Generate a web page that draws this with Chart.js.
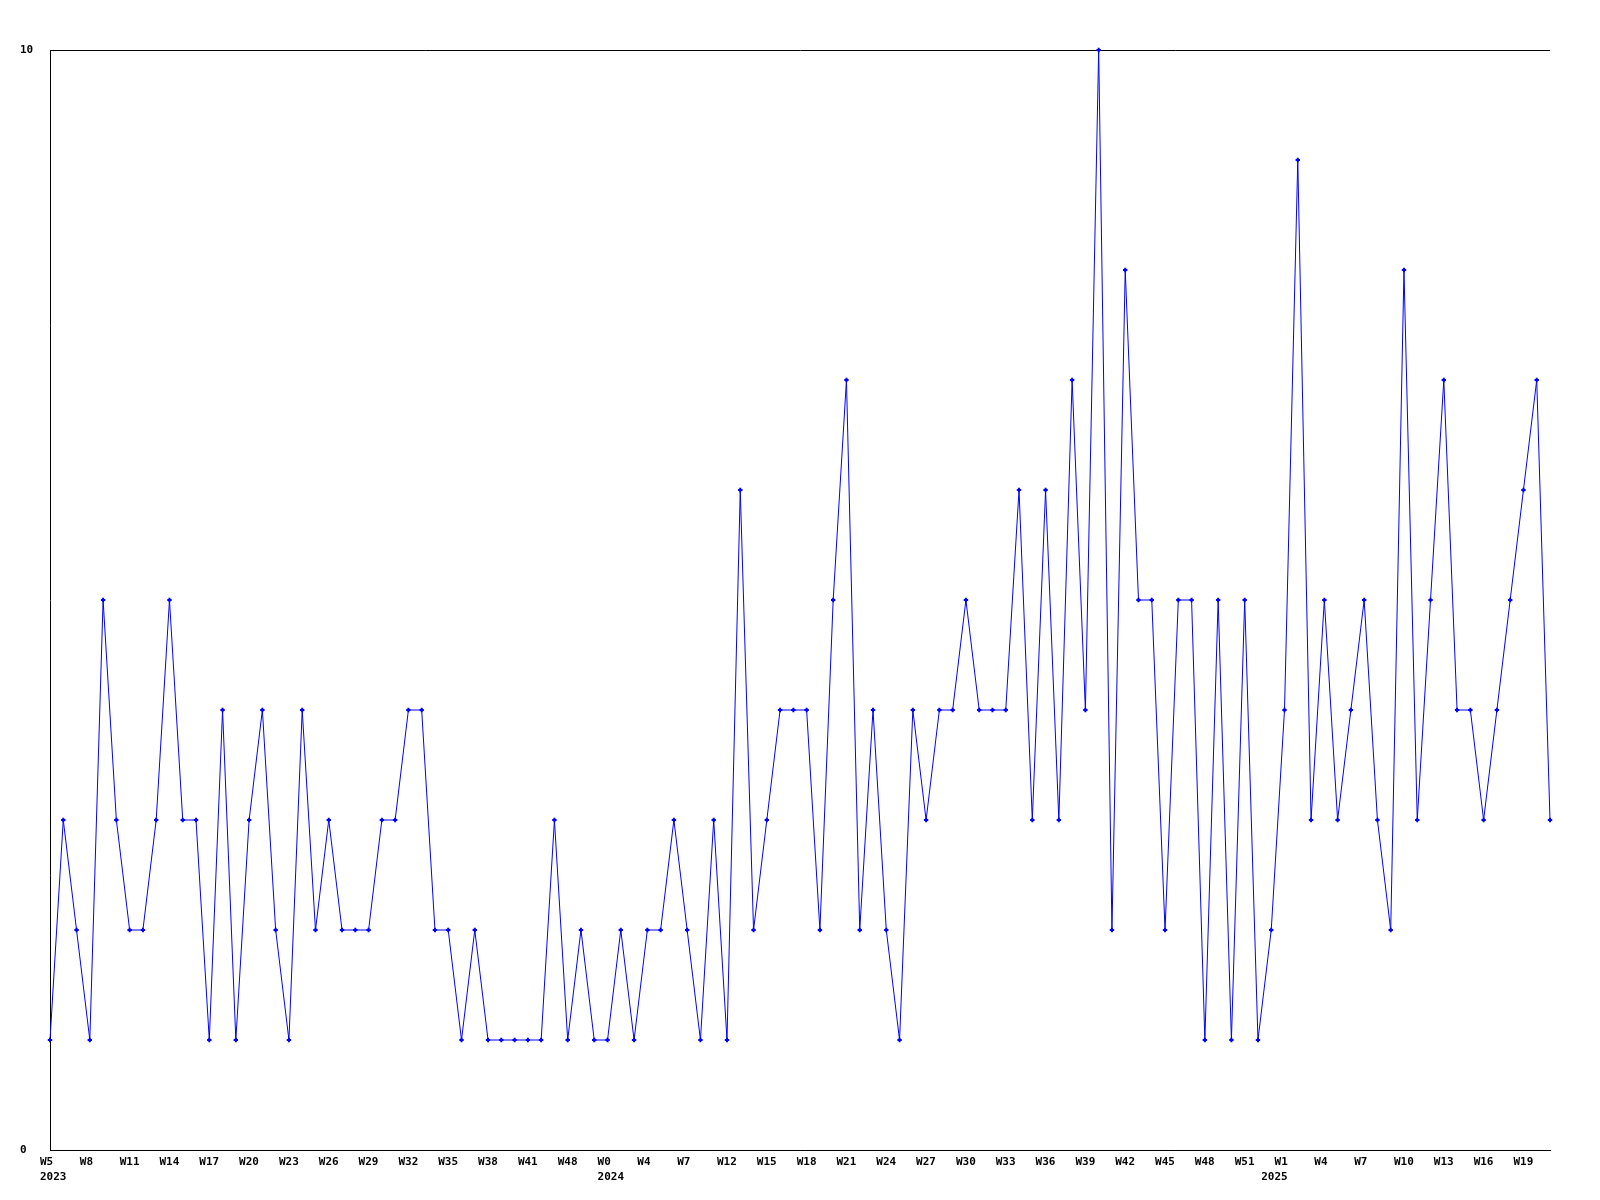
<!DOCTYPE html>
<html>
<head>
<meta charset="utf-8">
<script src="https://cdn.jsdelivr.net/npm/chart.js@4/dist/chart.umd.min.js"></script>
<style>
  html, body { margin: 0; padding: 0; background: #ffffff; }
  #wrap { width: 1600px; height: 1200px; }
</style>
</head>
<body>
<div id="wrap"><canvas id="c" width="1600" height="1200"></canvas></div>
<script>
// ---- data ----
const values = [
  1,3,2,1,5,3,2,2,3,5,3,3,1,4,1,3,4,2,1,4,
  2,3,2,2,2,3,3,4,4,2,2,1,2,1,1,1,1,1,3,1,
  2,1,1,2,1,2,2,3,2,1,3,1,6,2,3,4,4,4,2,5,
  7,2,4,2,1,4,3,4,4,5,4,4,4,6,3,6,3,7,4,10,
  2,8,5,5,2,5,5,1,5,1,5,1,2,4,9,3,5,3,4,5,
  3,2,8,3,5,7,4,4,3,4,5,6,7,3
];
// week tick labels, one every third point
const weekLabels = [
  'W5','W8','W11','W14','W17','W20','W23','W26','W29','W32',
  'W35','W38','W41','W48','W0','W4','W7','W12','W15','W18',
  'W21','W24','W27','W30','W33','W36','W39','W42','W45','W48',
  'W51','W1','W4','W7','W10','W13','W16','W19'
];
const weekEvery = 3;
// year labels and the point index they sit under
const yearLabels = ['2023', '2024', '2025'];
const yearAt = [0, 42, 92];
const yTicks = [0, 10];

// ---- build ----
const points = values.map((v, i) => ({ x: i, y: v }));
const tickMap = new Map();
weekLabels.forEach((w, k) => tickMap.set(k * weekEvery, [w]));
yearLabels.forEach((yr, j) => {
  const at = yearAt[j];
  const cur = tickMap.get(at);
  if (cur) cur.push(yr); else tickMap.set(at, ['', yr]);
});
const tickValues = Array.from(tickMap.keys()).sort((a, b) => a - b);

const font = { family: 'DejaVu Sans Mono', size: 11, weight: 'bold', lineHeight: 1.35 };

new Chart(document.getElementById('c'), {
  type: 'line',
  data: {
    datasets: [{
      data: points,
      borderColor: '#0000ff',
      backgroundColor: '#0000ff',
      borderWidth: 1,
      tension: 0,
      fill: false,
      pointStyle: 'cross',
      pointRadius: 2.2,
      pointBorderWidth: 2,
      pointBorderColor: '#0000ff',
      clip: false
    }]
  },
  options: {
    responsive: false,
    animation: false,
    devicePixelRatio: 1,
    layout: { padding: { left: 20, top: 50, right: 50, bottom: 0 } },
    plugins: { legend: { display: false }, tooltip: { enabled: false } },
    scales: {
      x: {
        type: 'linear',
        min: 0,
        max: values.length - 1,
        afterBuildTicks: (s) => { s.ticks = tickValues.map(v => ({ value: v })); },
        afterFit: (s) => { s.height = 50; },
        grid: { display: false, drawTicks: false },
        border: { display: true, color: '#000000', width: 1 },
        ticks: {
          autoSkip: false,
          maxRotation: 0,
          minRotation: 0,
          align: 'start',
          labelOffset: -10,
          padding: 5,
          color: '#000000',
          font: font,
          callback: (v) => tickMap.get(v) || ''
        }
      },
      y: {
        min: 0,
        max: 10,
        afterBuildTicks: (s) => { s.ticks = yTicks.map(v => ({ value: v })); },
        afterFit: (s) => { s.width = 30; },
        grid: { display: true, color: '#000000', lineWidth: 1, drawTicks: false },
        border: { display: true, color: '#000000', width: 1 },
        ticks: {
          crossAlign: 'far',
          padding: 0,
          color: '#000000',
          font: font
        }
      }
    }
  }
});
</script>
</body>
</html>
